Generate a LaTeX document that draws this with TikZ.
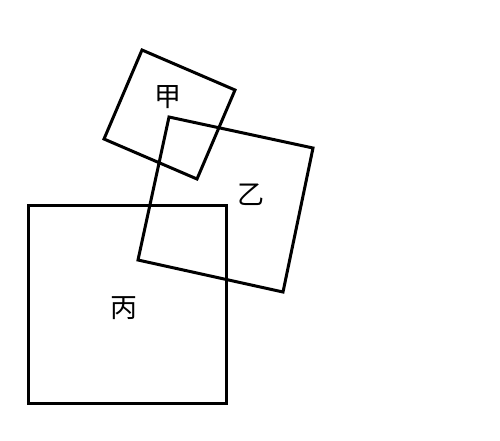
\documentclass[tikz,border=0pt]{standalone}
\usepackage{fontspec}
\newfontfamily\cjk{Noto Sans CJK SC}
\begin{document}
\begin{tikzpicture}[x=1pt,y=-1pt,
  sq/.style={draw=black,line width=3pt,line join=miter},
  lbl/.style={font=\cjk\fontsize{27}{27}\selectfont}]
\useasboundingbox[fill=white] (0,0) rectangle (500,440);
\coordinate (j1) at (142,50);
\coordinate (j2) at (235,90);
\coordinate (j3) at (197,179);
\coordinate (j4) at (104,139);
\coordinate (y1) at (169,117);
\coordinate (y2) at (313,148);
\coordinate (y3) at (283,292);
\coordinate (y4) at (138,260);
\coordinate (b1) at (28,205);
\coordinate (b2) at (226,403);
\draw[sq] (j1) -- (j2) -- (j3) -- (j4) -- cycle;
\draw[sq] (y1) -- (y2) -- (y3) -- (y4) -- cycle;
\draw[sq] (b1) rectangle (b2);
\node[lbl] (jia) at (168,97) {甲};
\node[lbl] (yi) at (251,195) {乙};
\node[lbl] (bing) at (124,308) {丙};
\end{tikzpicture}
\end{document}
